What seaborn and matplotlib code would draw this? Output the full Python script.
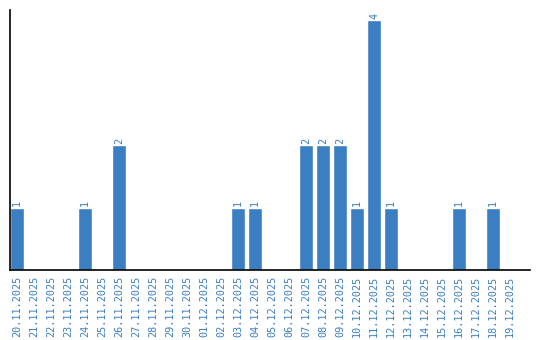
import matplotlib
matplotlib.use("Agg")
import matplotlib.pyplot as plt
import seaborn as sns
import pandas as pd

dates = ["20.11.2025", "21.11.2025", "22.11.2025", "23.11.2025", "24.11.2025",
         "25.11.2025", "26.11.2025", "27.11.2025", "28.11.2025", "29.11.2025",
         "30.11.2025", "01.12.2025", "02.12.2025", "03.12.2025", "04.12.2025",
         "05.12.2025", "06.12.2025", "07.12.2025", "08.12.2025", "09.12.2025",
         "10.12.2025", "11.12.2025", "12.12.2025", "13.12.2025", "14.12.2025",
         "15.12.2025", "16.12.2025", "17.12.2025", "18.12.2025", "19.12.2025"]
counts = [1, 0, 0, 0, 1, 0, 2, 0, 0, 0,
          0, 0, 0, 1, 1, 0, 0, 2, 2, 2,
          1, 4, 1, 0, 0, 0, 1, 0, 1, 0]

df = pd.DataFrame({"date": dates, "count": counts})
color = "#3b7ec2"

sns.set_style("white")
fig = plt.figure(figsize=(5.4, 3.4), dpi=100)
ax = fig.add_axes([10/540, 70/340, 520/540, 260/340])
sns.barplot(data=df, x="date", y="count", color=color, saturation=1,
            width=14/17, ax=ax)

for i, v in enumerate(counts):
    if v > 0:
        ax.text(i, v + 0.02, str(v), rotation=90, ha="center", va="bottom",
                color=color, fontsize=7.3, family="DejaVu Sans Mono")

ax.set_xlim(-7/17, -7/17 + 520/17)
ax.set_ylim(0, 260/62.5)
ax.set_xlabel("")
ax.set_ylabel("")
ax.set_yticks([])
ax.tick_params(axis="x", length=0, pad=4, labelcolor=color, labelsize=7.3)
for lab in ax.get_xticklabels():
    lab.set_rotation(90)
    lab.set_family("DejaVu Sans Mono")
for s in ["top", "right"]:
    ax.spines[s].set_visible(False)
for s in ["left", "bottom"]:
    ax.spines[s].set_color("black")
    ax.spines[s].set_linewidth(1.2)

fig.savefig("out.png", dpi=100)
